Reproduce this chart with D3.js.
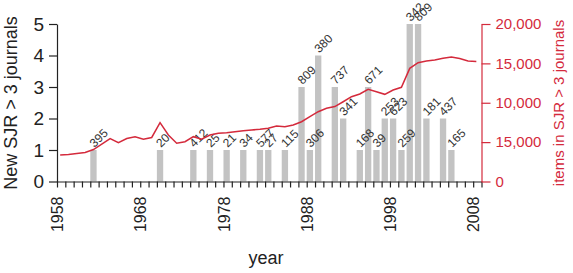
<!DOCTYPE html>
<html>
<head>
<meta charset="utf-8">
<script src="https://cdn.jsdelivr.net/npm/d3@7"></script>
<style>
  body { margin: 0; background: #fff; }
  svg { display: block; font-family: "Liberation Sans", Arial, sans-serif; }
</style>
</head>
<body>
<script>
// bars: new journals per year, with the label printed above each bar
const barYears  = [1962, 1970, 1974, 1976, 1978, 1980, 1982, 1983, 1985, 1987, 1988, 1989, 1991, 1992,
                   1994, 1995, 1996, 1997, 1998, 1999, 2000, 2001, 2002, 2004, 2005];
const barCounts = [1, 1, 1, 1, 1, 1, 1, 1, 1, 3, 1, 4, 3, 2,
                   1, 3, 1, 2, 2, 1, 5, 5, 2, 2, 1];
const barLabels = ["395", "20", "412", "25", "21", "34", "577", "27", "115", "809", "306", "380", "737", "341",
                   "168", "671", "39", "253", "623", "259", "342", "809", "181", "437", "165"];

// line: items in SJR > 3 journals (right axis)
const lineYears = d3.range(1958, 2009);
const lineItems = [3370, 3430, 3560, 3680, 4060, 4760, 5460, 4930, 5460, 5690,
                   5360, 5590, 7470, 5900, 4850, 5050, 5690, 5360, 5900, 6120,
                   6200, 6320, 6450, 6540, 6630, 6760, 7050, 6960, 7170, 7590,
                   8230, 8860, 9300, 9520, 10130, 10770, 11110, 11710, 11400, 11070,
                   11620, 11960, 14370, 15090, 15300, 15430, 15640, 15810, 15620, 15300,
                   15240];

const leftTicks = [0, 1, 2, 3, 4, 5];
const rightTicks = [0, 5000, 10000, 15000, 20000];
const rightTickLabels = ["0", "15,000", "10,000", "15,000", "20,000"];
const yearLabels = [1958, 1968, 1978, 1988, 1998, 2008];

const width = 573, height = 273;
const red = "#d42a3c", ink = "#222";

const svg = d3.select("body").append("svg")
  .attr("width", width)
  .attr("height", height);

const x = d3.scaleLinear().domain([1958, 2009]).range([57, 481.5]);
const y = d3.scaleLinear().domain([0, 5]).range([181.5, 24]);
const yR = d3.scaleLinear().domain([0, 20000]).range([181.5, 24]);
const barW = (x(1959) - x(1958)) * 0.76;

// bars
svg.append("g").selectAll("rect")
  .data(barYears)
  .join("rect")
  .attr("x", (d, i) => x(d))
  .attr("y", (d, i) => y(barCounts[i]))
  .attr("width", barW)
  .attr("height", (d, i) => y(0) - y(barCounts[i]))
  .attr("fill", "#c3c3c3");

// bar labels, slanted
svg.append("g").selectAll("text")
  .data(barYears)
  .join("text")
  .attr("transform", (d, i) => `translate(${x(d) + barW / 2 + 1},${y(barCounts[i]) - 2}) rotate(-45)`)
  .attr("font-size", 12)
  .attr("fill", "#333")
  .text((d, i) => barLabels[i]);

// red line
svg.append("path")
  .attr("d", d3.line()
    .x((d, i) => x(d) + barW / 2)
    .y((d, i) => yR(lineItems[i]))(lineYears))
  .attr("fill", "none")
  .attr("stroke", red)
  .attr("stroke-width", 1.5);

// left axis
const gL = svg.append("g")
  .attr("transform", `translate(${x(1958)},0)`)
  .call(d3.axisLeft(y).tickValues(leftTicks).tickSize(8).tickSizeOuter(0).tickPadding(5)
    .tickFormat(d3.format("d")));
gL.selectAll("path, line").attr("stroke", ink).attr("stroke-width", 1.2);
gL.selectAll("text").attr("font-size", 19).attr("fill", ink).attr("font-family", null);

// bottom axis
const gB = svg.append("g")
  .attr("transform", `translate(0,${y(0)})`)
  .call(d3.axisBottom(x).tickValues(d3.range(1958, 2010)).tickSize(6).tickSizeOuter(0)
    .tickFormat(d => yearLabels.includes(d) ? String(d) : ""));
gB.selectAll("path, line").attr("stroke", ink).attr("stroke-width", 1.2);
gB.selectAll("text")
  .attr("transform", "rotate(-90)")
  .attr("x", -15)
  .attr("y", 0)
  .attr("dy", "0.35em")
  .attr("text-anchor", "end")
  .attr("font-size", 16)
  .attr("fill", ink)
  .attr("font-family", null);

// right axis
const gR = svg.append("g")
  .attr("transform", `translate(${x(2009)},0)`)
  .call(d3.axisRight(yR).tickValues(rightTicks).tickSize(9).tickSizeOuter(0).tickPadding(5)
    .tickFormat((d, i) => rightTickLabels[i]));
gR.selectAll("path, line").attr("stroke", red).attr("stroke-width", 1.2);
gR.selectAll("text").attr("font-size", 15).attr("fill", red).attr("font-family", null);

// titles
svg.append("text")
  .attr("transform", "translate(17,103) rotate(-90)")
  .attr("text-anchor", "middle")
  .attr("font-size", 18)
  .attr("fill", ink)
  .text("New SJR > 3 journals");

svg.append("text")
  .attr("transform", "translate(564,103) rotate(-90)")
  .attr("text-anchor", "middle")
  .attr("font-size", 15)
  .attr("fill", red)
  .text("items in SJR > 3 journals");

svg.append("text")
  .attr("x", 266)
  .attr("y", 264)
  .attr("text-anchor", "middle")
  .attr("font-size", 18)
  .attr("fill", ink)
  .text("year");
</script>
</body>
</html>
